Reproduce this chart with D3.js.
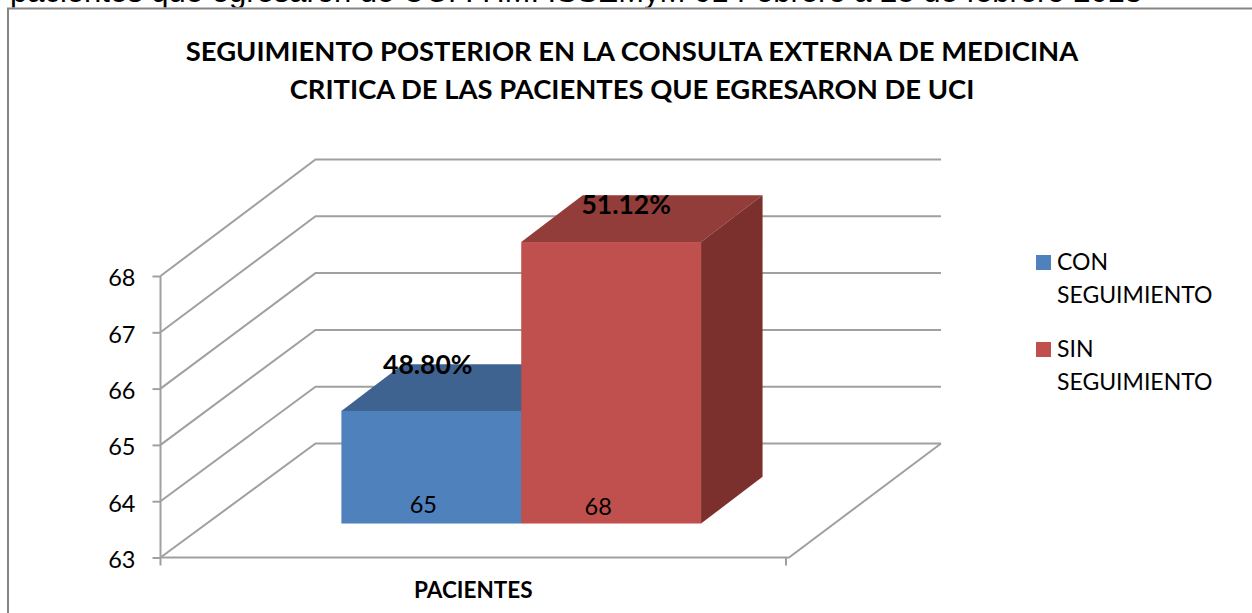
<!DOCTYPE html>
<html>
<head>
<meta charset="utf-8">
<script src="https://cdn.jsdelivr.net/npm/d3@7"></script>
<style>
  html, body { margin: 0; padding: 0; background: #fff; overflow: hidden; }
  text { font-family: Lato, "Open Sans", sans-serif; fill: #000; }
</style>
</head>
<body>
<svg id="chart" width="1252" height="613"></svg>
<script>
// Data
const seriesNames = ["CON SEGUIMIENTO", "SIN SEGUIMIENTO"];
const seriesValues = [65, 68];
const seriesPercents = ["48.80%", "51.12%"];
const categoryLabel = "PACIENTES";
const yTicks = [63, 64, 65, 66, 67, 68];
const titleLines = [
  "SEGUIMIENTO POSTERIOR EN LA CONSULTA EXTERNA DE MEDICINA",
  "CRITICA DE LAS PACIENTES QUE EGRESARON DE UCI"
];
const clippedCaption = "pacientes que egresaron de UCI : HMI ISSEMyM 01 Febrero a 28 de febrero 2013";

const frontColors = ["#4f81bd", "#c0504d"];
const topColors = ["#3e6390", "#933d3a"];
const sideColors = ["#2f4d70", "#7b302e"];
const gridColor = "#a0a0a0";

const svg = d3.select("#chart");

// Plot geometry: front plane of the 3D box and how far the walls go back
const front = { left: 160.5, right: 786, bottom: 557.5, top: 276 };
const depth = { x: 155, y: -114 };

const yScale = d3.scaleLinear().domain([63, 68]).range([front.bottom, front.top]);
// The back wall ticks are a little more open than the front ones in the picture
const yBack = d3.scaleLinear().domain([63, 68]).range([front.bottom + depth.y, 159.5]);
const xScale = d3.scaleBand().domain([categoryLabel]).range([front.left, front.right]);
// Position inside the depth of the box, 0 is the front and 1 the back wall
const depthX = d3.scaleLinear().domain([0, 1]).range([0, 150]);
const depthY = d3.scaleLinear().domain([0, 1]).range([0, depth.y]);

// Clipped caption above the chart and the chart frame
svg.append("text")
  .attr("x", 10)
  .attr("y", 1.5)
  .style("font-family", "'Liberation Sans', sans-serif")
  .style("font-size", "31px")
  .text(clippedCaption);

svg.append("rect")
  .attr("x", 0).attr("y", 7.5).attr("width", 1252).attr("height", 606)
  .attr("fill", "#fff");
svg.append("path")
  .attr("d", `M8,613V8.5H1252`)
  .attr("fill", "none")
  .attr("stroke", "#868686")
  .attr("stroke-width", 2);

// Title
svg.selectAll(".title")
  .data(titleLines)
  .enter()
  .append("text")
  .attr("class", "title")
  .attr("x", 632)
  .attr("y", (d, i) => 61 + i * 38)
  .attr("text-anchor", "middle")
  .style("font-weight", "bold")
  .style("font-size", "27.4px")
  .text(d => d);

// Walls: one line on the side wall and the back wall per tick
const walls = svg.append("g").attr("fill", "none").attr("stroke", gridColor).attr("stroke-width", 2);
walls.selectAll("path")
  .data(yTicks)
  .enter()
  .append("path")
  .attr("d", d => {
    const line = d3.path();
    line.moveTo(front.left, yScale(d));
    line.lineTo(front.left + depth.x, yBack(d));
    line.lineTo(front.right + depth.x, yBack(d));
    return line.toString();
  });

// Floor front and right edge
walls.append("path")
  .attr("d", `M${front.left},${yScale(63)}H${front.right + 3}L${front.right + depth.x},${yScale(63) + depth.y}`);

// Y axis
const yAxis = d3.axisLeft(yScale).tickValues(yTicks).tickSize(8).tickPadding(17).tickFormat(d3.format("d"));
const yAxisGroup = svg.append("g")
  .attr("transform", `translate(${front.left},0)`)
  .call(yAxis);
yAxisGroup.selectAll("line").attr("stroke", gridColor).attr("stroke-width", 2);
yAxisGroup.select(".domain").attr("stroke", gridColor).attr("stroke-width", 2).attr("d", `M0,${front.top}V${front.bottom + 8}`);
yAxisGroup.selectAll("text")
  .style("font-family", "Lato, sans-serif")
  .style("font-size", "23.5px")
  .attr("dy", "0.42em")
  .attr("fill", "#000");

// X axis
const xAxis = d3.axisBottom(xScale).tickSize(0).tickPadding(25);
const xAxisGroup = svg.append("g")
  .attr("transform", `translate(0,${front.bottom})`)
  .call(xAxis);
xAxisGroup.select(".domain").remove();
xAxisGroup.selectAll("text")
  .style("font-family", "Lato, sans-serif")
  .style("font-size", "22.5px")
  .style("font-weight", "bold")
  .attr("fill", "#000");
xAxisGroup.append("line")
  .attr("x1", front.right).attr("x2", front.right)
  .attr("y1", 0).attr("y2", 8)
  .attr("stroke", gridColor).attr("stroke-width", 2);

// Bars, two columns side by side inside the category band
const barScale = d3.scaleBand()
  .domain(seriesNames)
  .range([xScale(categoryLabel) + 0.29 * xScale.bandwidth(), xScale(categoryLabel) + 0.865 * xScale.bandwidth()]);
const barFront = 0.298; // depth where the bar starts
const barDepth = 0.41;  // depth of the bar itself
const bars = seriesNames.map((name, i) => ({
  name,
  value: seriesValues[i],
  percent: seriesPercents[i],
  front: frontColors[i],
  top: topColors[i],
  side: sideColors[i]
}));

const barX = d => barScale(d.name) - 0.5;
const baseY = yScale(63) + depthY(barFront);
// The value axis starts at the front plane, so bar height comes from the same scale
const topY = d => yScale(d.value) + depthY(barFront);
const dx = depthX(barDepth);
const dy = depthY(barDepth);

const barGroups = svg.selectAll(".bar")
  .data(bars)
  .enter()
  .append("g")
  .attr("class", "bar");

barGroups.append("path")
  .attr("fill", d => d.top)
  .attr("d", d => {
    const x0 = barX(d), x1 = x0 + barScale.bandwidth(), y = topY(d);
    return `M${x0},${y}L${x0 + dx},${y + dy}H${x1 + dx}L${x1},${y}Z`;
  });

barGroups.append("path")
  .attr("fill", d => d.side)
  .attr("d", d => {
    const x1 = barX(d) + barScale.bandwidth(), y = topY(d);
    return `M${x1},${y}L${x1 + dx},${y + dy}V${baseY + dy}L${x1},${baseY}Z`;
  });

barGroups.append("rect")
  .attr("x", barX)
  .attr("y", topY)
  .attr("width", barScale.bandwidth())
  .attr("height", d => baseY - topY(d))
  .attr("fill", d => d.front);

// Value labels at the foot of each bar
barGroups.append("text")
  .attr("x", d => barX(d) + barScale.bandwidth() / 2 + (d.value === 65 ? -8 : -13))
  .attr("y", d => baseY - (d.value === 65 ? 11 : 9))
  .attr("text-anchor", "middle")
  .style("font-size", "23.5px")
  .text(d => d.value);

// Percent labels on the top face
barGroups.append("text")
  .attr("x", d => barX(d) + barScale.bandwidth() / 2 + (d.value === 65 ? -3.5 : 15))
  .attr("y", d => topY(d) + (d.value === 65 ? -37 : -28))
  .attr("text-anchor", "middle")
  .style("font-size", "26.5px")
  .style("font-weight", "bold")
  .text(d => d.percent);

// Legend
const legendY = d3.scalePoint().domain(seriesNames).range([269, 356]);
const legend = svg.selectAll(".legend")
  .data(bars)
  .enter()
  .append("g")
  .attr("class", "legend")
  .attr("transform", d => `translate(1036,${legendY(d.name)})`);

legend.append("rect")
  .attr("x", 0)
  .attr("y", -14)
  .attr("width", 15)
  .attr("height", 15)
  .attr("fill", d => d.front);

legend.each(function (d) {
  const words = d.name.split(" ");
  d3.select(this).selectAll("text")
    .data(words)
    .enter()
    .append("text")
    .attr("x", 21)
    .attr("y", (w, i) => 1 + i * 32.5)
    .style("font-size", "23px")
    .text(w => w);
});
</script>
</body>
</html>
